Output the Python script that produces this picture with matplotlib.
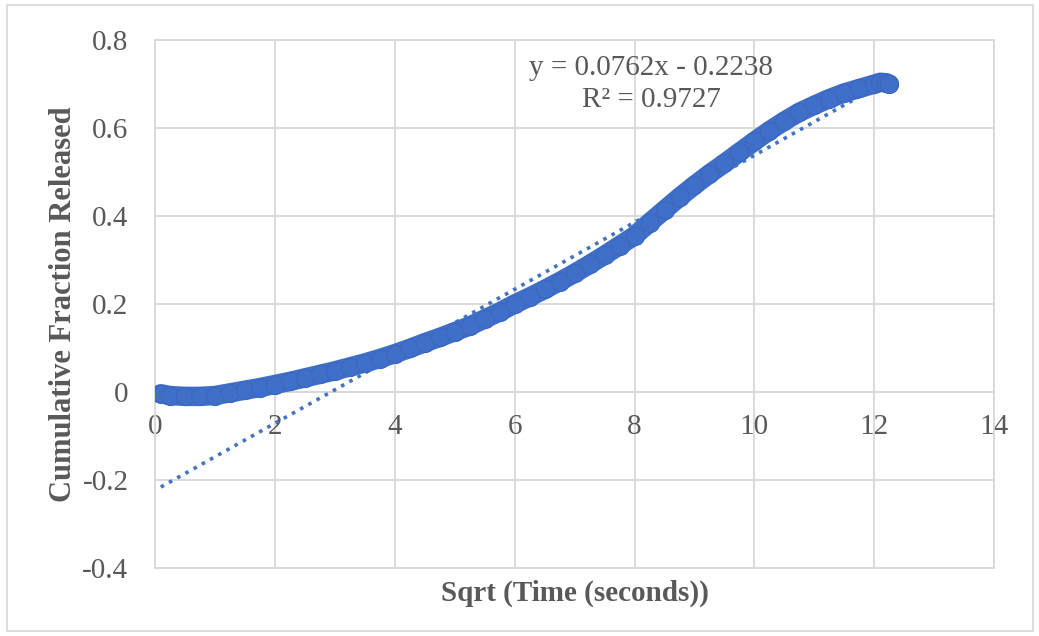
import matplotlib
matplotlib.use("Agg")
import matplotlib.pyplot as plt
from matplotlib.patches import Rectangle

# data
sqrt_time = [0.1, 0.25, 0.5, 0.75, 1.0, 1.25, 1.5, 1.75, 2.0, 2.25, 2.5, 2.75,
             3.0, 3.25, 3.5, 3.75, 4.0, 4.25, 4.5, 4.75, 5.0, 5.25, 5.5, 5.75,
             6.0, 6.25, 6.5, 6.75, 7.0, 7.25, 7.5, 7.75, 8.0, 8.25, 8.5, 8.75,
             9.0, 9.25, 9.5, 9.75, 10.0, 10.25, 10.5, 10.75, 11.0, 11.25, 11.5,
             11.75, 12.0, 12.1, 12.2, 12.25]
fraction = [-0.004, -0.008, -0.010, -0.010, -0.008, -0.002, 0.004, 0.010,
            0.017, 0.024, 0.032, 0.040, 0.048, 0.057, 0.066, 0.076, 0.087,
            0.099, 0.112, 0.124, 0.137, 0.150, 0.166, 0.182, 0.200, 0.216,
            0.233, 0.251, 0.270, 0.290, 0.311, 0.333, 0.355, 0.385, 0.414,
            0.443, 0.470, 0.496, 0.520, 0.545, 0.570, 0.594, 0.616, 0.636,
            0.652, 0.667, 0.680, 0.690, 0.700, 0.704, 0.703, 0.700]

# linear trendline from the chart
slope = 0.0762
intercept = -0.2238
r_squared = 0.9727
trend_x = [0.1, 12.25]

xticks = [0, 2, 4, 6, 8, 10, 12, 14]
yticks = [-0.4, -0.2, 0, 0.2, 0.4, 0.6, 0.8]
ytick_labels = ["-0.4", "-0.2", "0", "0.2", "0.4", "0.6", "0.8"]

blue = "#4472C4"
band = "#3f6fc9"
grey_text = "#595959"
grid_col = "#d9d9d9"

plt.rcParams["font.family"] = ["Liberation Serif", "DejaVu Serif"]

fig = plt.figure(figsize=(10.39, 6.36), dpi=100)
ax = fig.add_axes([0.149, 0.107, 0.808, 0.830])

# trendline (dotted)
ax.plot(trend_x, [slope * x + intercept for x in trend_x], linestyle=(0, (1, 1.6)),
        color=blue, linewidth=2.6, zorder=3)

# dense measured points: thick band through them plus the markers
ax.plot(sqrt_time, fraction, color=band, linewidth=14,
        solid_capstyle="round", solid_joinstyle="round", zorder=4)
ax.scatter(sqrt_time, fraction, s=170, color=band, edgecolors="#3a68c0",
           linewidths=0.8, zorder=5)

ax.set_xlim(0, 14)
ax.set_ylim(-0.4, 0.8)
ax.set_xticks(xticks)
ax.set_yticks(yticks)
ax.set_yticklabels(ytick_labels)
ax.grid(True, color=grid_col, linewidth=1.3)
ax.set_axisbelow(True)

for side in ["left", "right", "top"]:
    ax.spines[side].set_color(grid_col)
    ax.spines[side].set_linewidth(1.3)
ax.spines["bottom"].set_position(("data", 0))
ax.spines["bottom"].set_color(grid_col)
ax.spines["bottom"].set_linewidth(1.3)
ax.axhline(-0.4, color=grid_col, linewidth=1.3, clip_on=False)

ax.tick_params(length=0, labelsize=21, colors=grey_text)
ax.tick_params(axis="y", pad=19)
ax.tick_params(axis="x", pad=16)

ax.set_xlabel("Sqrt (Time (seconds))", fontsize=21, fontweight="bold",
              color=grey_text, labelpad=0)
ax.xaxis.set_label_coords(0.5, -0.022)
ax.set_ylabel("Cumulative Fraction Released", fontsize=22, fontweight="bold",
              color=grey_text)
ax.yaxis.set_label_coords(-0.092, 0.5)

ax.text(8.28, 0.736, "y = 0.0762x - 0.2238", fontsize=21, color=grey_text,
        ha="center", va="center")
ax.text(8.28, 0.664, "R² = %.4f" % r_squared, fontsize=21, color=grey_text,
        ha="center", va="center")

# chart border
fig.patches.append(Rectangle((7 / 1039, 5 / 636), 1026 / 1039, 626 / 636,
                             transform=fig.transFigure, fill=False,
                             edgecolor=grid_col, linewidth=1.3))

fig.savefig("out.png", dpi=100)
